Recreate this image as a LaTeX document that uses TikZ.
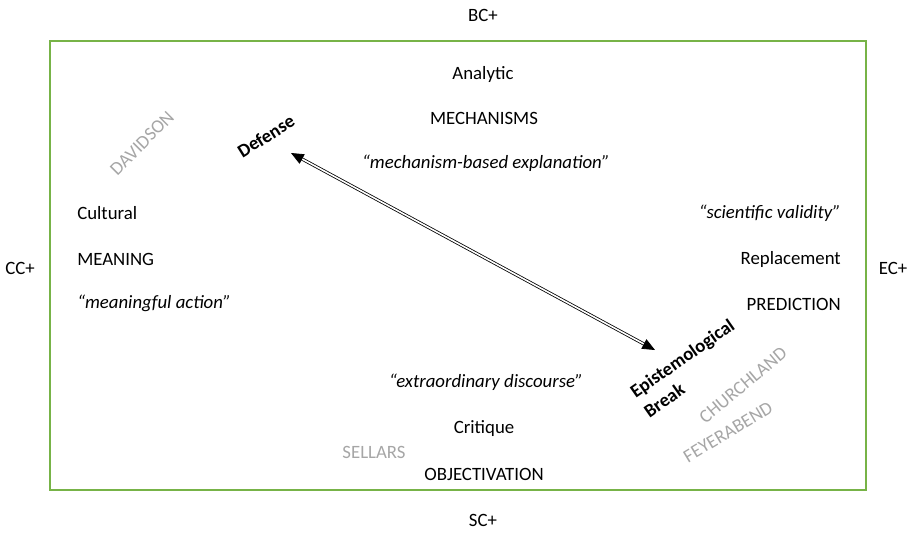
\documentclass[tikz,border=0pt]{standalone}
\usepackage{fontspec}
\setmainfont{Carlito}
\usetikzlibrary{arrows.meta}
\definecolor{framecolor}{HTML}{77B347}
\definecolor{thinkercolor}{HTML}{A6A6A6}
\tikzset{
  map frame/.style={draw=framecolor,line width=2.2pt},
  map term/.style={inner sep=0pt,font=\fontsize{14.1}{16.5}\selectfont},
  map quote/.style={map term,font=\fontsize{14.1}{16.5}\selectfont\itshape},
  map thinker/.style={map term,text=thinkercolor},
  map turn/.style={map term,font=\fontsize{14.1}{18}\selectfont\bfseries,align=left},
  map arrow/.style={double,double distance=1.2pt,line width=.6pt,
    {Triangle[length=9.5pt,width=8pt]}-{Triangle[length=9.5pt,width=8pt]}}
}
\begin{document}
\begin{tikzpicture}[x=.75pt,y=-.75pt]
  \useasboundingbox (0,0) rectangle (912,533);
  \draw[map frame] (50,41) rectangle (866,490);
  % poles
  \node[map term] (bc) at (483,15) {BC+};
  \node[map term] (sc) at (483,520) {SC+};
  \node[map term] (cc) at (20,268) {CC+};
  \node[map term] (ec) at (893,268) {EC+};
  % top
  \node[map term] (analytic) at (483,74) {Analytic};
  \node[map term] (mechanisms) at (484,118) {MECHANISMS};
  \node[map quote] (mechq) at (486,163) {“mechanism-based explanation”};
  % left
  \node[map term,anchor=west] (cultural) at (77,213) {Cultural};
  \node[map term,anchor=west] (meaning) at (77,259) {MEANING};
  \node[map quote,anchor=west] (meanq) at (77,303) {“meaningful action”};
  % right
  \node[map quote,anchor=east] (validq) at (841,213) {“scientific validity”};
  \node[map term,anchor=east] (replacement) at (841,259) {Replacement};
  \node[map term,anchor=east] (prediction) at (841,304) {PREDICTION};
  % bottom
  \node[map quote] (discq) at (486,382) {“extraordinary discourse”};
  \node[map term] (critique) at (484,429) {Critique};
  \node[map term] (objectivation) at (484,474) {OBJECTIVATION};
  % thinkers
  \node[map thinker,rotate=45] (davidson) at (142,143) {DAVIDSON};
  \node[map thinker] (sellars) at (374,452) {SELLARS};
  \node[map thinker,rotate=40] (churchland) at (743,385) {CHURCHLAND};
  \node[map thinker,rotate=31] (feyerabend) at (728,432) {FEYERABEND};
  % turns
  \node[map turn,rotate=32] (defense) at (266,136) {Defense};
  \node[map turn,rotate=35] (break) at (689,368) {Epistemological\\Break};
  \coordinate (defense tip) at (291,153);
  \coordinate (break tip) at (655,350);
  \draw[map arrow] (defense tip) -- (break tip);
\end{tikzpicture}
\end{document}
